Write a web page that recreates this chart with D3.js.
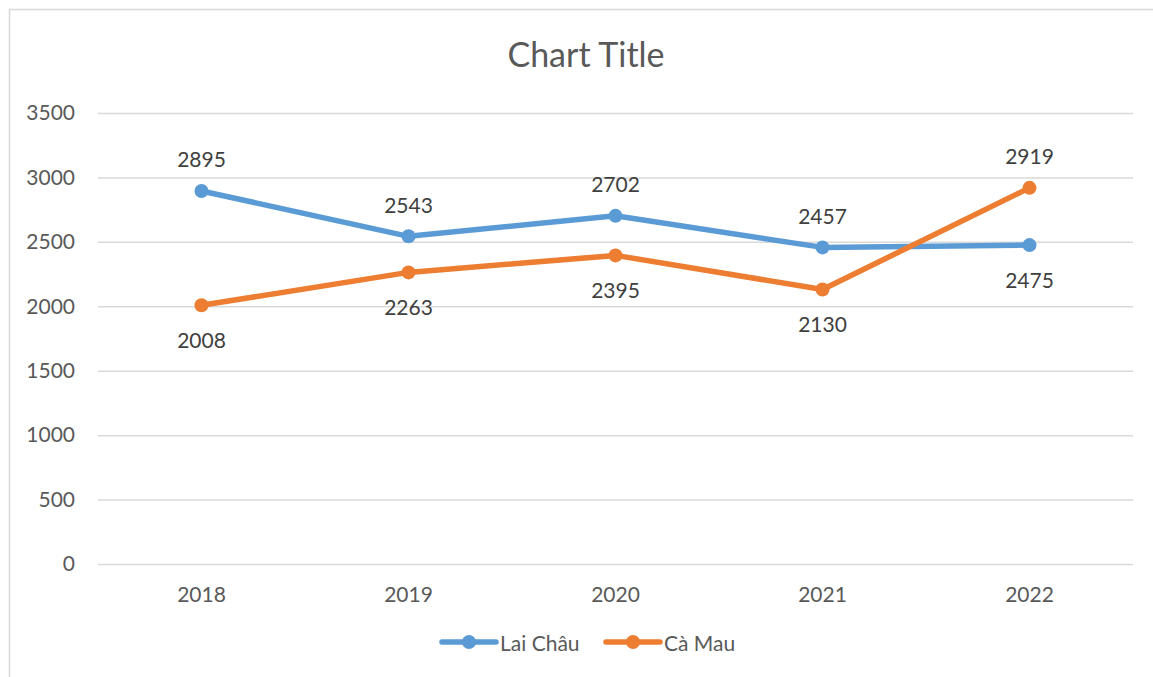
<!DOCTYPE html>
<html><head><meta charset="utf-8">
<script src="https://cdn.jsdelivr.net/npm/d3@7"></script>
<style>
html,body{margin:0;padding:0;background:#fff;}
svg{display:block;font-family:Lato, "Open Sans", sans-serif;}
</style></head>
<body>
<svg id="c" width="1153" height="677"></svg>
<script>
const years = ["2018","2019","2020","2021","2022"];
const laiChau = [2895, 2543, 2702, 2457, 2475];
const caMau = [2008, 2263, 2395, 2130, 2919];
const seriesNames = ["Lai Châu", "Cà Mau"];
const seriesColors = ["#5B9BD5", "#ED7D31"];
const yTicks = [0, 500, 1000, 1500, 2000, 2500, 3000, 3500];
const chartTitle = "Chart Title";

(function(){
const svg = d3.select("#c");
const pL = 98, pR = 1133, pT = 113, pB = 564;

// chart border
svg.append("rect").attr("x", 9.5).attr("y", 9.5).attr("width", 1160).attr("height", 700)
  .attr("fill", "none").attr("stroke", "#D9D9D9").attr("stroke-width", 1.5);

const x = d3.scaleBand().domain(years).range([pL, pR]);
const y = d3.scaleLinear().domain([0, 3500]).range([pB, pT]);
const cx = d => x(d) + x.bandwidth() / 2;

// title
svg.append("text").attr("x", 586).attr("y", 53).attr("text-anchor", "middle")
  .attr("dominant-baseline", "central").attr("font-size", 34).attr("fill", "#595959").text(chartTitle);

// gridlines + y axis
const yAxis = d3.axisLeft(y).tickValues(yTicks).tickSize(-(pR - pL)).tickPadding(23).tickFormat(d3.format("d"));
const ga = svg.append("g").attr("transform", `translate(${pL},0)`).call(yAxis);
ga.select(".domain").remove();
ga.selectAll(".tick line").attr("stroke", "#D9D9D9").attr("stroke-width", 1.5);
ga.selectAll(".tick text").attr("font-size", 21).attr("fill", "#595959").attr("font-family", "Lato, sans-serif");

const xAxis = d3.axisBottom(x).tickSize(0).tickPadding(23);
const gx = svg.append("g").attr("transform", `translate(0,${pB})`).call(xAxis);
gx.select(".domain").remove();
gx.selectAll(".tick text").attr("font-size", 21).attr("fill", "#595959").attr("font-family", "Lato, sans-serif");

const series = [laiChau, caMau];
const line = d3.line().x((d, i) => cx(years[i])).y(d => y(d));

series.forEach((vals, s) => {
  const other = series[1 - s];
  svg.append("path").datum(vals).attr("d", line).attr("fill", "none")
    .attr("stroke", seriesColors[s]).attr("stroke-width", 5.5).attr("stroke-linejoin", "round").attr("stroke-linecap", "round");
  svg.selectAll(null).data(vals).enter().append("circle")
    .attr("cx", (d, i) => cx(years[i])).attr("cy", d => y(d)).attr("r", 7)
    .attr("fill", seriesColors[s]);
  svg.selectAll(null).data(vals).enter().append("text")
    .attr("x", (d, i) => cx(years[i]))
    .attr("y", (d, i) => y(d) + (d > other[i] ? -32 : 34))
    .attr("text-anchor", "middle").attr("dominant-baseline", "central")
    .attr("font-size", 21).attr("fill", "#404040").text(d => d);
});

// legend
const legendItems = [{x0: 442, tx: 500}, {x0: 606, tx: 664}];
seriesNames.forEach((n, s) => {
  const L = legendItems[s];
  const g = svg.append("g");
  g.append("line").attr("x1", L.x0).attr("x2", L.x0 + 54).attr("y1", 642).attr("y2", 642)
    .attr("stroke", seriesColors[s]).attr("stroke-width", 5.5).attr("stroke-linecap", "round");
  g.append("circle").attr("cx", L.x0 + 27).attr("cy", 642).attr("r", 7).attr("fill", seriesColors[s]);
  g.append("text").attr("x", L.tx).attr("y", 642).attr("dominant-baseline", "central")
    .attr("font-size", 21).attr("fill", "#595959").text(n);
});
})();
</script>
</body></html>
